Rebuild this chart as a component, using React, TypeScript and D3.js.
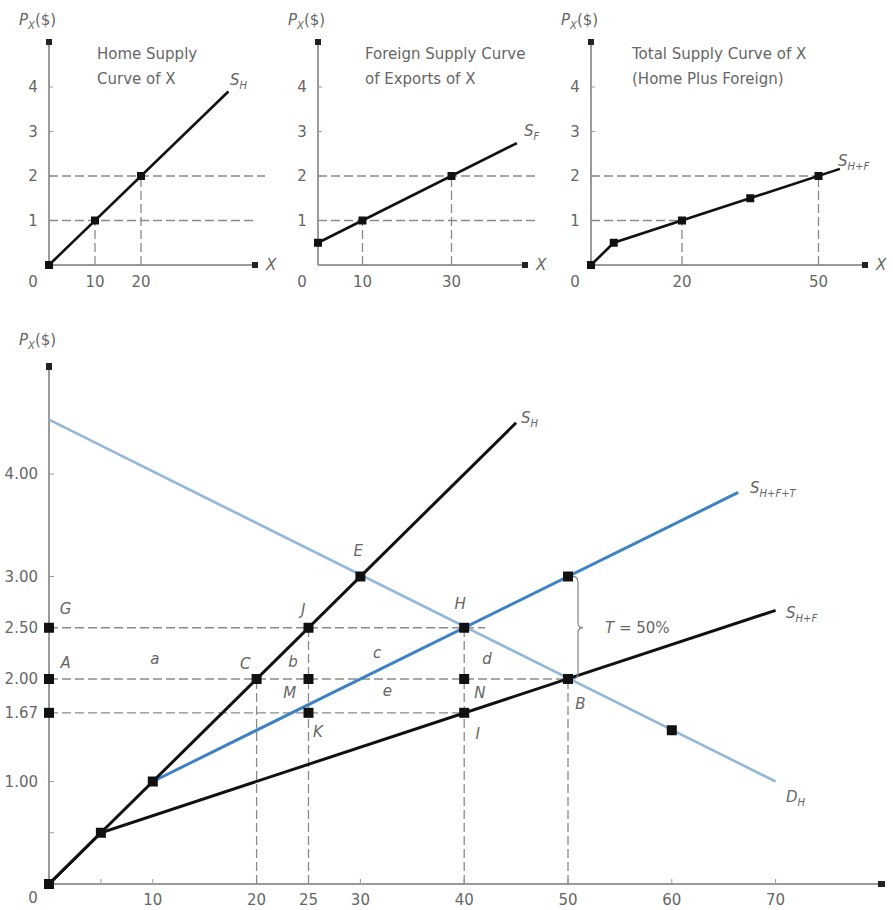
import React from "react";
import * as d3 from "d3";

// ---------- data ----------
const yTicksSmall = [1, 2, 3, 4];
const p1XTicks = [10, 20];
const p2XTicks = [10, 30];
const p3XTicks = [20, 50];

const homeSupply: [number, number][] = [[0, 0], [39, 3.9]];
const homePoints: [number, number][] = [[0, 0], [10, 1], [20, 2]];
const foreignSupply: [number, number][] = [[0, 0.5], [44.7, 2.74]];
const foreignPoints: [number, number][] = [[0, 0.5], [10, 1], [30, 2]];
const totalSupply: [number, number][] = [[0, 0], [5, 0.5], [54.7, 2.16]];
const totalPoints: [number, number][] = [[0, 0], [5, 0.5], [20, 1], [35, 1.5], [50, 2]];

const mainYTicks = [0.5, 1, 1.67, 2, 2.5, 3, 4];
const mainYLabels = ["", "1.00", "1.67", "2.00", "2.50", "3.00", "4.00"];
const mainXTicks = [5, 10, 20, 25, 30, 40, 50, 60, 70];
const mainXLabels = ["", "10", "20", "25", "30", "40", "50", "60", "70"];

const sH: [number, number][] = [[0, 0], [45, 4.5]];
const sHF: [number, number][] = [[0, 0], [5, 0.5], [70, 2.67]];
const sHFT: [number, number][] = [[10, 1], [66.4, 3.82]];
const dH: [number, number][] = [[0, 4.53], [70, 1.0]];
const mainPoints: [number, number][] = [
  [0, 0], [5, 0.5], [10, 1], [30, 3], [25, 2.5], [40, 2.5], [50, 3], [50, 2],
  [20, 2], [25, 2], [40, 2], [25, 1.67], [40, 1.67], [60, 1.5],
  [0, 2.5], [0, 2], [0, 1.67],
];
// dashed guides: [x1,y1,x2,y2]
const mainDashes: [number, number, number, number][] = [
  [0, 2.5, 42, 2.5], [0, 2, 50, 2], [0, 1.67, 40, 1.67],
  [20, 0, 20, 2], [25, 0, 25, 2.5], [40, 0, 40, 2.5], [50, 0, 50, 2],
];
// letters: [label, data x (centre), data y (text centre)]
const letterLabels: [string, number, number][] = [
  ["G", 1.6, 2.68], ["J", 24.5, 2.67], ["E", 29.8, 3.25], ["A", 1.6, 2.16],
  ["a", 10.2, 2.2], ["C", 18.9, 2.15], ["b", 23.5, 2.17], ["c", 31.6, 2.25],
  ["M", 23.2, 1.86], ["e", 32.6, 1.88], ["K", 25.9, 1.48], ["H", 39.6, 2.73],
  ["d", 42.2, 2.2], ["N", 41.5, 1.86], ["I", 41.3, 1.46], ["B", 51.2, 1.76],
];

const TEXT = "#666";
const AXIS = "#9a9a9a";
const DASH = "#8a8a8a";
const FONT = "'DejaVu Sans', sans-serif";
const FS = 15;

type Panel = { x0: number; y0: number; kx: number; ky: number };

function scales(p: Panel) {
  const x = d3.scaleLinear().domain([0, 1]).range([p.x0, p.x0 + p.kx]);
  const y = d3.scaleLinear().domain([0, 1]).range([p.y0, p.y0 - p.ky]);
  return { x, y };
}

function PLabel({ x, y }: { x: number; y: number }) {
  return (
    <text x={x} y={y} fontSize={FS} fill={TEXT} fontFamily={FONT}>
      <tspan fontStyle="italic">P</tspan>
      <tspan fontSize={10} dy={4} fontStyle="italic">X</tspan>
      <tspan dy={-4}>($)</tspan>
    </text>
  );
}

function SLabel({ x, y, sub }: { x: number; y: number; sub: string }) {
  return (
    <text x={x} y={y} fontSize={FS} fill={TEXT} fontFamily={FONT} fontStyle="italic">
      S<tspan fontSize={10} dy={4}>{sub}</tspan>
    </text>
  );
}

function SmallPanel({
  p, xEnd, xTicks, curve, points, dashH, dashV, title, sLabel, sPos,
}: {
  p: Panel; xEnd: number; xTicks: number[]; curve: [number, number][];
  points: [number, number][]; dashH: [number, number][]; dashV: [number, number][];
  title: [string, string, number]; sLabel: string; sPos: [number, number];
}) {
  const { x, y } = scales(p);
  const line = d3.line<[number, number]>().x((d) => x(d[0])).y((d) => y(d[1]));
  const yTop = 42;
  return (
    <g>
      <PLabel x={p.x0 - 30} y={25} />
      <line x1={p.x0} y1={p.y0} x2={p.x0} y2={yTop} stroke={AXIS} strokeWidth={2} />
      <rect x={p.x0 - 3} y={yTop - 3} width={6} height={6} fill="#222" />
      <line x1={p.x0} y1={p.y0} x2={xEnd} y2={p.y0} stroke={AXIS} strokeWidth={2} />
      <rect x={xEnd - 3} y={p.y0 - 3} width={6} height={6} fill="#222" />
      <text x={xEnd + 11} y={p.y0 + 5} fontSize={FS} fill={TEXT} fontFamily={FONT} fontStyle="italic">X</text>
      {yTicksSmall.map((t) => (
        <g key={t}>
          <line x1={p.x0} x2={p.x0 + 4} y1={y(t)} y2={y(t)} stroke={AXIS} />
          <text x={p.x0 - 16} y={y(t) + 5} fontSize={FS} fill={TEXT} fontFamily={FONT} textAnchor="middle">{t}</text>
        </g>
      ))}
      <text x={p.x0 - 16} y={p.y0 + 22} fontSize={FS} fill={TEXT} fontFamily={FONT} textAnchor="middle">0</text>
      {xTicks.map((t) => (
        <text key={t} x={x(t)} y={p.y0 + 22} fontSize={FS} fill={TEXT} fontFamily={FONT} textAnchor="middle">{t}</text>
      ))}
      {dashH.map(([v, xe], i) => (
        <line key={"h" + i} x1={p.x0} x2={xe} y1={y(v)} y2={y(v)} stroke={DASH} strokeWidth={1.3} strokeDasharray="9,4" />
      ))}
      {dashV.map(([xv, yv], i) => (
        <line key={"v" + i} x1={x(xv)} x2={x(xv)} y1={p.y0} y2={y(yv)} stroke={DASH} strokeWidth={1.3} strokeDasharray="9,4" />
      ))}
      <path d={line(curve) || ""} fill="none" stroke="#111" strokeWidth={2.6} />
      {points.map((d, i) => (
        <rect key={i} x={x(d[0]) - 4} y={y(d[1]) - 4} width={8} height={8} fill="#111" />
      ))}
      <text x={title[2]} y={59} fontSize={FS} fill={TEXT} fontFamily={FONT}>{title[0]}</text>
      <text x={title[2]} y={84} fontSize={FS} fill={TEXT} fontFamily={FONT}>{title[1]}</text>
      <SLabel x={sPos[0]} y={sPos[1]} sub={sLabel} />
    </g>
  );
}

export default function App() {
  const p1: Panel = { x0: 49, y0: 265, kx: 4.6, ky: 44.5 };
  const p2: Panel = { x0: 318, y0: 265, kx: 4.45, ky: 44.5 };
  const p3: Panel = { x0: 591, y0: 265, kx: 4.55, ky: 44.5 };
  const pm: Panel = { x0: 49, y0: 884, kx: 10.38, ky: 102.5 };
  const s3 = scales(p3);
  const { x, y } = scales(pm);
  const line = d3.line<[number, number]>().x((d) => x(d[0])).y((d) => y(d[1]));
  const yTop = 366;
  const xEnd = 882;
  const bx = x(50) + 10;
  const bt = y(3), bb = y(2), bm = y(2.5);
  const brace = `M${bx - 5},${bt} Q${bx},${bt} ${bx},${bt + 6} L${bx},${bm - 5} Q${bx},${bm} ${bx + 5},${bm} Q${bx},${bm} ${bx},${bm + 5} L${bx},${bb - 6} Q${bx},${bb} ${bx - 5},${bb}`;

  return (
    <svg width={893} height={910} style={{ position: "absolute", left: 0, top: 0, background: "#fff" }}>
      <SmallPanel
        p={p1} xEnd={255} xTicks={p1XTicks} curve={homeSupply} points={homePoints}
        dashH={[[1, 257], [2, 265]]}
        dashV={[[10, 1], [20, 2]]}
        title={["Home Supply", "Curve of X", 97]} sLabel="H" sPos={[230, 85]}
      />
      <SmallPanel
        p={p2} xEnd={525} xTicks={p2XTicks} curve={foreignSupply} points={foreignPoints}
        dashH={[[1, 537], [2, 537]]}
        dashV={[[10, 1], [30, 2]]}
        title={["Foreign Supply Curve", "of Exports of X", 365]} sLabel="F" sPos={[524, 136]}
      />
      <SmallPanel
        p={p3} xEnd={865} xTicks={p3XTicks} curve={totalSupply} points={totalPoints}
        dashH={[[1, s3.x(20)], [2, s3.x(50)]]}
        dashV={[[20, 1], [50, 2]]}
        title={["Total Supply Curve of X", "(Home Plus Foreign)", 632]} sLabel="H+F" sPos={[838, 166]}
      />

      {/* main chart */}
      <PLabel x={19} y={345} />
      <line x1={x(0)} y1={y(0)} x2={x(0)} y2={yTop} stroke={AXIS} strokeWidth={2} />
      <rect x={x(0) - 3} y={yTop - 3} width={6} height={7} fill="#222" />
      <line x1={x(0)} y1={y(0)} x2={xEnd} y2={y(0)} stroke={AXIS} strokeWidth={2} />
      <rect x={xEnd - 4} y={y(0) - 3} width={7} height={6} fill="#222" />
      {mainYTicks.map((t, i) => (
        <g key={t}>
          <line x1={x(0)} x2={x(0) + 5} y1={y(t)} y2={y(t)} stroke={AXIS} />
          <text x={38} y={y(t) + 5} fontSize={FS} fill={TEXT} fontFamily={FONT} textAnchor="end">{mainYLabels[i]}</text>
        </g>
      ))}
      {mainXTicks.map((t, i) => (
        <g key={t}>
          <line x1={x(t)} x2={x(t)} y1={y(0)} y2={y(0) - 5} stroke={AXIS} />
          <text x={x(t)} y={y(0) + 21} fontSize={FS} fill={TEXT} fontFamily={FONT} textAnchor="middle">{mainXLabels[i]}</text>
        </g>
      ))}
      <text x={33} y={y(0) + 19} fontSize={FS} fill={TEXT} fontFamily={FONT} textAnchor="middle">0</text>

      {mainDashes.map(([a, b, c, d], i) => (
        <line key={i} x1={x(a)} y1={y(b)} x2={x(c)} y2={y(d)} stroke={DASH} strokeWidth={1.3} strokeDasharray="9,4" />
      ))}

      <path d={line(dH) || ""} fill="none" stroke="#93b7d6" strokeWidth={2.6} />
      <path d={line(sHF) || ""} fill="none" stroke="#111" strokeWidth={3} />
      <path d={line(sHFT) || ""} fill="none" stroke="#3d82c4" strokeWidth={3} />
      <path d={line(sH) || ""} fill="none" stroke="#111" strokeWidth={3} />

      {mainPoints.map((d, i) => (
        <rect key={i} x={x(d[0]) - 5} y={y(d[1]) - 5} width={10} height={10} fill="#111" />
      ))}

      <path d={brace} fill="none" stroke={DASH} strokeWidth={1.3} />
      <text x={605} y={y(2.5) + 5} fontSize={FS} fill={TEXT} fontFamily={FONT}>
        <tspan fontStyle="italic">T</tspan> = 50%
      </text>

      {letterLabels.map(([l, lx, ly]) => (
        <text key={l} x={x(lx)} y={y(ly) + 5} fontSize={FS} fill={TEXT} fontFamily={FONT} fontStyle="italic" textAnchor="middle">{l}</text>
      ))}

      <SLabel x={521} y={423} sub="H" />
      <SLabel x={750} y={493} sub="H+F+T" />
      <SLabel x={786} y={618} sub="H+F" />
      <text x={786} y={802} fontSize={FS} fill={TEXT} fontFamily={FONT} fontStyle="italic">
        D<tspan fontSize={10} dy={4}>H</tspan>
      </text>
    </svg>
  );
}
